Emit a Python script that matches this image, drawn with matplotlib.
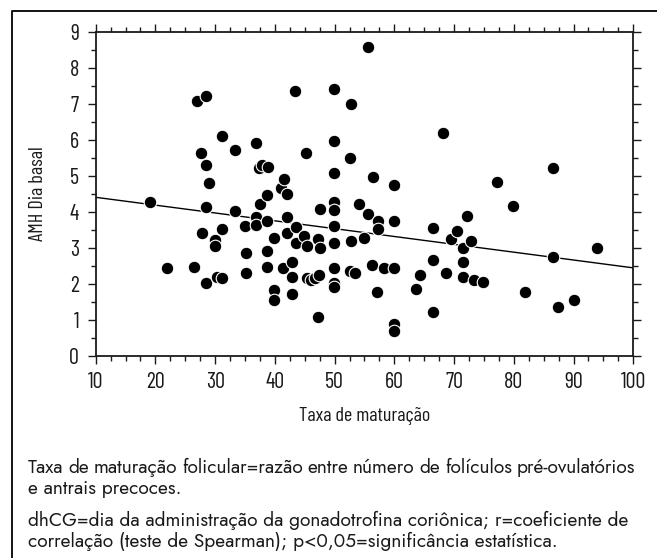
import matplotlib
matplotlib.use('Agg')
import matplotlib.pyplot as plt
from matplotlib.ticker import MultipleLocator
from matplotlib.lines import Line2D

# taxa de maturacao (x) vs AMH dia basal (y)
taxa = [19.1, 21.9, 26.5, 27.0, 28.4, 27.7, 28.4, 29.0, 28.4, 27.8,
        28.4, 30.0, 30.0, 30.3, 31.2, 31.2, 31.2, 33.3, 33.3, 35.0,
        35.2, 35.2, 36.8, 36.8, 36.8, 37.5, 37.4, 37.9, 38.9, 38.6,
        38.7, 38.7, 38.7, 39.9, 39.9, 39.9, 41.1, 41.5, 42.0, 42.1,
        42.1, 41.4, 42.8, 42.8, 42.8, 43.3, 43.6, 43.5, 44.9, 45.3,
        45.2, 45.3, 46.0, 46.7, 47.4, 47.2, 47.2, 47.5, 47.5, 49.9,
        49.9, 49.9, 49.9, 49.9, 49.9, 49.9, 49.9, 49.9, 49.9, 52.7,
        52.5, 52.7, 52.6, 53.4, 54.0, 54.9, 55.6, 55.6, 56.5, 56.2,
        57.2, 57.2, 57.1, 58.3, 59.9, 59.9, 59.9, 59.9, 59.9, 63.7,
        64.3, 66.5, 66.5, 66.5, 68.1, 68.7, 69.4, 70.5, 71.5, 71.5,
        71.5, 72.1, 72.8, 73.3, 74.9, 77.1, 79.9, 81.8, 86.5, 86.5,
        87.4, 90.0, 94.0]
amh = [4.26, 2.43, 2.47, 7.08, 7.22, 5.62, 5.30, 4.79, 4.12, 3.42,
       2.01, 3.20, 3.05, 2.19, 2.15, 3.51, 6.09, 5.71, 4.03, 3.61,
       2.86, 2.31, 5.91, 3.84, 3.64, 4.21, 5.20, 5.29, 5.25, 4.46,
       3.75, 2.91, 2.47, 3.28, 1.82, 1.55, 4.65, 4.92, 4.50, 3.84,
       3.42, 2.43, 2.61, 2.19, 1.72, 7.36, 3.57, 3.14, 3.33, 3.05,
       5.62, 2.15, 2.10, 2.15, 2.24, 1.07, 3.23, 3.00, 4.07, 7.41,
       5.96, 5.07, 4.28, 4.04, 3.61, 3.14, 2.43, 2.02, 1.92, 6.98,
       5.48, 3.18, 2.34, 2.30, 4.21, 3.28, 8.58, 3.94, 4.97, 2.53,
       3.75, 3.51, 1.78, 2.43, 2.43, 3.75, 4.73, 0.88, 0.69, 1.86,
       2.24, 3.56, 2.66, 1.21, 6.19, 2.30, 3.23, 3.46, 3.00, 2.61,
       2.19, 3.89, 3.19, 2.10, 2.06, 4.83, 4.17, 1.77, 5.21, 2.75,
       1.34, 1.54, 2.99]

# regression line end points
fit_x = [10, 100]
fit_y = [4.40, 2.44]

x_ticks = [10, 20, 30, 40, 50, 60, 70, 80, 90, 100]
y_ticks = [0, 1, 2, 3, 4, 5, 6, 7, 8, 9]

# (text, justify to full width)
caption = [
    ("Taxa de maturação folicular=razão entre número de folículos pré-ovulatórios", True),
    ("e antrais precoces.", False),
    ("dhCG=dia da administração da gonadotrofina coriônica; r=coeficiente de", False),
    ("correlação (teste de Spearman); p<0,05=significância estatística.", False),
]

W, H = 657, 558
narrow = ['Barlow Condensed', 'Roboto Condensed', 'Liberation Sans Narrow', 'DejaVu Sans']
cap_font = ['Jost', 'Lato', 'DejaVu Sans']
cap_size = 13.8
ink = '#1a1a1a'

fig = plt.figure(figsize=(W / 100, H / 100), dpi=100)
ax = fig.add_axes([95.7 / W, 1 - 355.7 / H, (633.3 - 95.7) / W, (355.7 - 31.7) / H])

ax.plot(fit_x, fit_y, color='black', lw=1.0, zorder=1)
ax.scatter(taxa, amh, s=82, c='black', edgecolors='white', linewidths=0.8, zorder=2)

ax.set_xlim(10, 100)
ax.set_ylim(0, 9)
ax.set_xticks(x_ticks)
ax.set_yticks(y_ticks)
ax.xaxis.set_minor_locator(MultipleLocator(2.5))
ax.yaxis.set_minor_locator(MultipleLocator(0.5))
ax.tick_params(which='both', direction='out', top=True, right=True,
               labeltop=False, labelright=False, color=ink, width=1.0)
ax.tick_params(which='major', length=6, pad=6)
ax.tick_params(which='minor', length=3.5)
for sp in ax.spines.values():
    sp.set_linewidth(1.3)
    sp.set_color(ink)
for lab in ax.get_xticklabels() + ax.get_yticklabels():
    lab.set_family(narrow)
    lab.set_fontsize(16)
    lab.set_color(ink)

ax.set_xlabel('Taxa de maturação', family=narrow, fontsize=14.5, labelpad=10, color=ink)
ax.set_ylabel('AMH Dia basal', family=narrow, fontsize=14.5, labelpad=16, color=ink)

# outer frame (left and top edges only visible)
fig.add_artist(Line2D([12 / W, 12 / W, 1], [0, 1 - 11 / H, 1 - 11 / H],
                      transform=fig.transFigure, color='black', lw=1.3))

# caption
renderer = fig.canvas.get_renderer()
x0, x1 = 28, 635
baselines = [473, 494, 526, 547]
for (line, just), yb in zip(caption, baselines):
    kw = dict(family=cap_font, fontsize=cap_size, color=ink, va='baseline', ha='left')
    if not just:
        fig.text(x0 / W, 1 - yb / H, line, **kw)
        continue
    words = line.split(' ')
    widths = []
    for wd in words:
        t = fig.text(0, 0, wd, **kw)
        widths.append(t.get_window_extent(renderer).width)
        t.remove()
    gap = (x1 - x0 - sum(widths)) / (len(words) - 1)
    xp = x0
    for wd, w in zip(words, widths):
        fig.text(xp / W, 1 - yb / H, wd, **kw)
        xp += w + gap

fig.savefig('out.png', dpi=100)
